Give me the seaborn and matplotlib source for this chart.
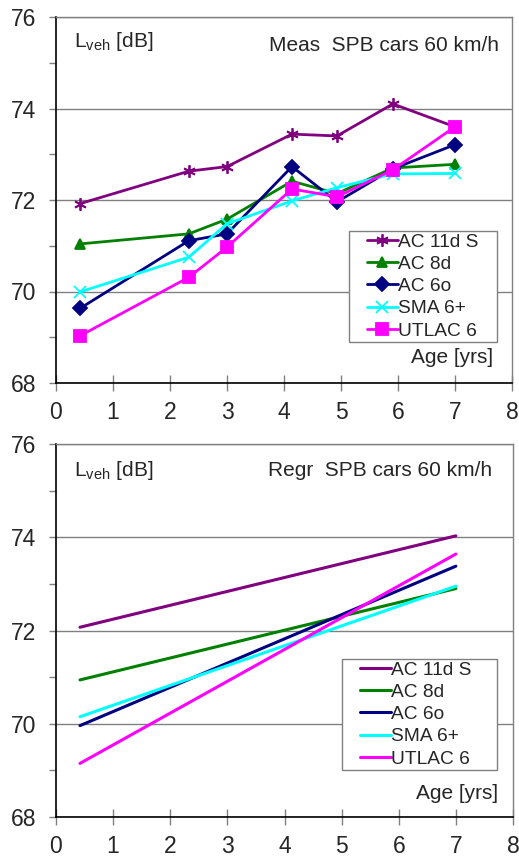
import numpy as np
import pandas as pd
import matplotlib
matplotlib.use("Agg")
import matplotlib.pyplot as plt
import seaborn as sns
from matplotlib.ticker import MultipleLocator
from matplotlib.legend_handler import HandlerLine2D

sns.set_theme(style="white")
plt.rcParams['font.family'] = ['Liberation Sans', 'DejaVu Sans']

# ---- data ----
series = ["AC 11d S", "AC 8d", "AC 6o", "SMA 6+", "UTLAC 6"]
age = [0.42, 2.33, 3.0, 4.14, 4.93, 5.91, 7.0]
meas_ac11d = [71.92, 72.63, 72.73, 73.44, 73.40, 74.10, 73.60]
meas_ac8d = [71.04, 71.26, 71.58, 72.41, 72.14, 72.70, 72.78]
meas_ac6o = [69.63, 71.11, 71.26, 72.73, 71.96, 72.68, 73.21]
meas_sma6 = [69.99, 70.75, 71.48, 71.98, 72.27, 72.57, 72.58]
meas_utlac6 = [69.03, 70.31, 70.97, 72.24, 72.07, 72.66, 73.60]

regr_age = [0.42, 7.0]
regr_ac11d = [72.07, 74.03]
regr_ac8d = [70.94, 72.90]
regr_ac6o = [69.96, 73.38]
regr_sma6 = [70.15, 72.95]
regr_utlac6 = [69.15, 73.64]

colors = ["#800080", "#008000", "#000080", "#00FFFF", "#FF00FF"]
markers = [(6, 2, 0), "^", "D", "x", "s"]
msizes = [9, 7, 7, 8, 9]

meas = [meas_ac11d, meas_ac8d, meas_ac6o, meas_sma6, meas_utlac6]
regr = [regr_ac11d, regr_ac8d, regr_ac6o, regr_sma6, regr_utlac6]


class OffsetLineHandler(HandlerLine2D):
    def __init__(self, offset, **kw):
        super().__init__(**kw)
        self.offset = offset

    def create_artists(self, legend, orig_handle, xdescent, ydescent, width, height,
                       fontsize, trans):
        return super().create_artists(legend, orig_handle, xdescent - self.offset, ydescent,
                                      width - self.offset, height, fontsize, trans)


W, H = 519, 857
fig = plt.figure(figsize=(W / 100, H / 100), dpi=100)
ax1 = fig.add_axes([56 / W, 1 - 383 / H, (512 - 56) / W, (383 - 17) / H])
ax2 = fig.add_axes([56 / W, 1 - 817 / H, (513 - 56) / W, (817 - 444) / H])

for i, name in enumerate(series):
    df = pd.DataFrame({"age": age, "L": meas[i]})
    sns.lineplot(data=df, x="age", y="L", ax=ax1, color=colors[i], marker=markers[i],
                 markersize=msizes[i], markeredgecolor=colors[i], markeredgewidth=1.3,
                 linewidth=2.0, label=name, sort=False)
    dfr = pd.DataFrame({"age": regr_age, "L": regr[i]})
    sns.lineplot(data=dfr, x="age", y="L", ax=ax2, color=colors[i], linewidth=2.2,
                 label=name, sort=False)

configs = [
    (ax1, "Meas  SPB cars 60 km/h", 0.932, 0.923, 0.972, 0.071, 0.958,
     (349 / W, 1 - 343 / H, 148 / W, 112 / H)),
    (ax2, "Regr  SPB cars 60 km/h", 0.930, 0.930, 0.955, 0.064, 0.967,
     (342 / W, 1 - 777 / H, 155 / W, 118 / H)),
]

for ax, ttl, ly, ty, tx, ay, axx, lbox in configs:
    ax.set_xlim(0, 8)
    ax.set_ylim(68, 76)
    ax.xaxis.set_major_locator(MultipleLocator(1))
    ax.yaxis.set_major_locator(MultipleLocator(2))
    ax.yaxis.set_minor_locator(MultipleLocator(1))
    ax.grid(axis="y", which="major", color="#808080", linewidth=1.0)
    ax.set_axisbelow(True)
    ax.tick_params(axis="x", which="major", direction="inout", length=12, width=1,
                   labelsize=16.5, color="#808080", pad=7, bottom=True)
    ax.tick_params(axis="y", which="major", direction="out", length=5, width=1,
                   labelsize=16.5, color="#808080", pad=9, left=True)
    ax.tick_params(axis="y", which="minor", direction="out", length=5, width=1,
                   color="#808080", left=True)
    for s in ["top", "right"]:
        ax.spines[s].set_color("#808080")
        ax.spines[s].set_linewidth(1.0)
    for s in ["left", "bottom"]:
        ax.spines[s].set_color("black")
        ax.spines[s].set_linewidth(1.2)
    ax.set_xlabel("")
    ax.set_ylabel("")
    ax.text(0.040, ly, r"L$_{\mathregular{veh}}$ [dB]", transform=ax.transAxes,
            fontsize=15, ha="left", va="center")
    ax.text(tx, ty, ttl, transform=ax.transAxes, fontsize=15, ha="right", va="center")
    ax.text(axx, ay, "Age [yrs]", transform=ax.transAxes, fontsize=15, ha="right",
            va="center")
    handles, labels = ax.get_legend_handles_labels()
    leg = ax.legend(handles, labels, loc="upper left", bbox_to_anchor=lbox,
                    bbox_transform=fig.transFigure, mode="expand",
                    frameon=True, fancybox=False, edgecolor="#808080", framealpha=1.0,
                    facecolor="white", fontsize=13.8,
                    handlelength=2.45, handletextpad=0.0, labelspacing=0.25,
                    borderpad=0.12, borderaxespad=0.0,
                    handler_map={h: OffsetLineHandler(11) for h in handles})
    leg.get_frame().set_linewidth(1.0)

fig.savefig("out.png", dpi=100)
